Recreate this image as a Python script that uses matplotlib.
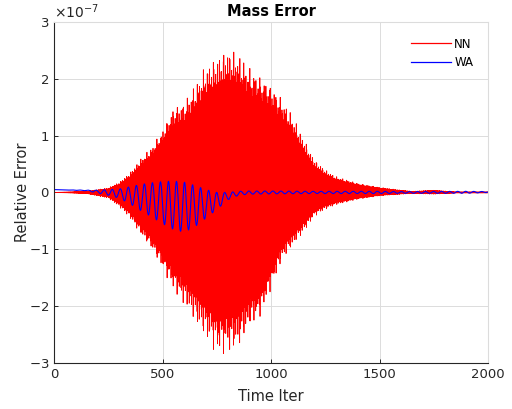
import matplotlib

matplotlib.use("Agg")
import matplotlib.pyplot as plt
import numpy as np
from matplotlib.ticker import ScalarFormatter

plt.rcParams["font.family"] = "DejaVu Sans"
plt.rcParams["axes.unicode_minus"] = False

# envelope readings (units of 1e-7) at these iterations
nn_iter = [0, 150, 250, 300, 350, 400, 450, 500, 550, 600, 650, 700, 750, 800, 850, 900,
           950, 1000, 1050, 1100, 1150, 1200, 1250, 1300, 1400, 1500, 1600, 1650, 1750, 1850, 2000]
nn_upper = [0.0, 0.02, 0.08, 0.18, 0.35, 0.6, 0.8, 1.1, 1.5, 1.6, 1.9, 2.25, 2.4, 2.55, 2.45, 2.2,
            2.05, 1.9, 1.65, 1.35, 0.95, 0.58, 0.4, 0.28, 0.16, 0.09, 0.04, 0.02, 0.04, 0.01, 0.01]
nn_lower = [0.0, -0.02, -0.1, -0.25, -0.45, -0.75, -1.0, -1.35, -1.72, -2.0, -2.3, -2.6, -2.85, -2.85, -2.75, -2.4,
            -2.2, -1.7, -1.2, -0.95, -0.7, -0.42, -0.3, -0.22, -0.12, -0.06, -0.03, -0.02, -0.03, -0.01, -0.01]
nn_spike_periods = [9.3, 23.7]

wa_iter = [0, 150, 200, 250, 300, 350, 400, 450, 500, 550, 600, 650, 700, 750, 800, 850,
           900, 1000, 1200, 1500, 1600, 1900, 2000]
wa_upper = [0.05, 0.04, 0.04, 0.05, 0.06, 0.1, 0.14, 0.17, 0.19, 0.2, 0.18, 0.12, 0.05, 0.0, 0.0, 0.02,
            0.025, 0.025, 0.02, 0.02, 0.015, 0.02, 0.015]
wa_lower = [0.05, 0.03, -0.01, -0.05, -0.1, -0.2, -0.32, -0.43, -0.55, -0.65, -0.7, -0.6, -0.45, -0.3, -0.13, -0.05,
            -0.03, -0.025, -0.02, -0.02, -0.015, -0.015, 0.0]
wa_period = 37

n_iter = 2000


def build_nn():
    t = np.arange(n_iter + 1)
    up = np.interp(t, nn_iter, nn_upper)
    lo = np.interp(t, nn_iter, nn_lower)
    p1, p2 = nn_spike_periods
    spike = (0.5 + 0.5 * np.cos(2 * np.pi * t / p1)) ** 2 * (0.7 + 0.3 * np.cos(2 * np.pi * t / p2))
    m = 0.76 + 0.24 * spike
    val = np.where(t % 2 == 0, up, lo) * m
    return t, val * 1e-7


def build_wa():
    t = np.arange(n_iter + 1)
    up = np.interp(t, wa_iter, wa_upper)
    lo = np.interp(t, wa_iter, wa_lower)
    mid = (up + lo) / 2
    half = (up - lo) / 2
    val = mid + half * np.sin(2 * np.pi * t / wa_period)
    return t, val * 1e-7


fig = plt.figure(figsize=(5.12, 4.09), dpi=100)
ax = fig.add_axes([0.1055, 0.1125, 0.848, 0.834])

t, nn = build_nn()
ax.plot(t, nn, color="#FF0000", lw=0.6, label="NN")
t, wa = build_wa()
ax.plot(t, wa, color="#0000FF", lw=0.8, label="WA")

ax.set_xlim(0, 2000)
ax.set_ylim(-3e-7, 3e-7)
ax.set_xticks([0, 500, 1000, 1500, 2000])
ax.set_yticks(np.arange(-3, 4) * 1e-7)
fmt = ScalarFormatter(useMathText=True)
fmt.set_powerlimits((0, 0))
ax.yaxis.set_major_formatter(fmt)
ax.yaxis.get_offset_text().set_fontsize(10)
ax.yaxis.get_offset_text().set_color("#262626")

ax.grid(True, color="#dcdcdc", lw=0.7)
ax.set_axisbelow(True)
for s in ["top", "right"]:
    ax.spines[s].set_color("#dcdcdc")
for s in ["left", "bottom"]:
    ax.spines[s].set_color("#262626")
ax.tick_params(direction="in", length=3, labelsize=9.5, colors="#262626", width=0.7)

ax.set_xlabel("Time Iter", fontsize=10.5, color="#262626", labelpad=6)
ax.set_ylabel("Relative Error", fontsize=10.5, color="#262626", labelpad=-1)
ax.set_title("Mass Error", fontsize=10.5, fontweight="bold", pad=4)

leg = ax.legend(loc="upper right", bbox_to_anchor=(0.99, 0.985), frameon=False, fontsize=8.5,
                handlelength=3.4, handletextpad=0.3, labelspacing=0.45)
for h in leg.get_lines():
    h.set_linewidth(0.9)

fig.savefig("out.png", dpi=100)
